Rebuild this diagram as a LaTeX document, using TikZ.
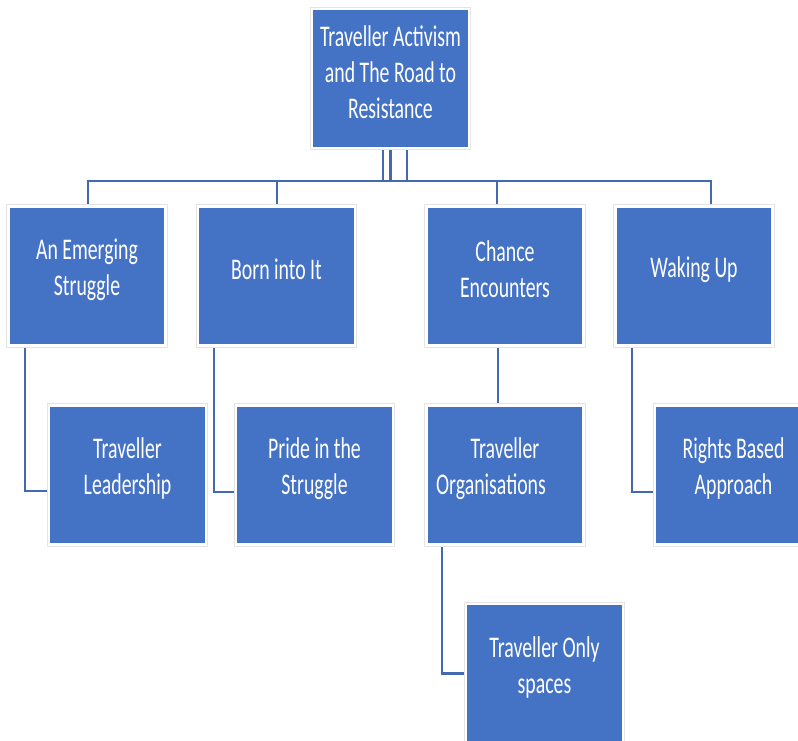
\documentclass[tikz,border=0pt]{standalone}
\usepackage{fontspec}
\newfontfamily\boxfont[FakeStretch=0.66]{Carlito}
\pgfdeclarelayer{background}
\pgfsetlayers{background,main}
\definecolor{boxblue}{HTML}{4472C4}
\definecolor{linkblue}{HTML}{4369B0}
\definecolor{rimgray}{HTML}{E4E4E4}
\tikzset{
  box/.style={rectangle, minimum width=157pt, minimum height=139pt, inner sep=0pt,
    fill=boxblue, draw=white, line width=2.4pt,
    preaction={draw=rimgray, line width=4.2pt}},
  lbl/.style={font=\boxfont\fontsize{30}{36}\selectfont, text=white, align=center, inner sep=0pt, yshift=6.5pt},
  link/.style={draw=linkblue, line width=2.2pt}
}
\begin{document}
\begin{tikzpicture}[x=1pt, y=-1pt]
\useasboundingbox (0,0) rectangle (798,740);
\clip (0,0) rectangle (798,740);

\node[box, label={[lbl, name=tl]center:Traveller Activism\\and The Road to\\Resistance}] (top) at (390.5,78.5) {};

\node[box, label={[lbl, name=al]center:An Emerging\\Struggle}] (a) at (87,276) {};
\node[box, label={[lbl, name=bl]center:Born into It}] (b) at (276.5,276) {};
\node[box, label={[lbl, name=cl]center:Chance\\Encounters}] (c) at (505,276) {};
\node[box, label={[lbl, name=dl]center:Waking Up}] (d) at (694,276) {};

\node[box, label={[lbl, name=a2l]center:Traveller\\Leadership}] (a2) at (127.5,475) {};
\node[box, label={[lbl, name=b2l]center:Pride in the\\Struggle}] (b2) at (314.5,475) {};
\node[box, label={[lbl, name=c2l]center:Traveller\\Organisations\hspace*{28pt}}] (c2) at (505,475) {};
\node[box, label={[lbl, name=d2l]center:Rights Based\\Approach}] (d2) at (733.5,475) {};

\node[box, label={[lbl, name=c3l]center:Traveller Only\\spaces}] (c3) at (544.5,673.5) {};

\coordinate (busa) at (88,181);
\coordinate (busb) at (277,181);
\coordinate (busc) at (497,181);
\coordinate (busd) at (711,181);

\begin{pgfonlayer}{background}
  \fill[white] (0,0) rectangle (798,740);
  \draw[link] ([xshift=16.5pt]top.center) |- (busa) -- (busa |- a.center);
  \draw[link] (top.center) |- (busb) -- (busb |- b.center);
  \draw[link] ([xshift=16.5pt]top.center) |- (busc) -- (busc |- c.center);
  \draw[link] ([xshift=-7.5pt]top.center) |- (busd) -- (busd |- d.center);

  \draw[link] ([xshift=-62pt]a.center) |- ([yshift=-16pt]a2.center);
  \draw[link] ([xshift=-62.5pt]b.center) |- ([yshift=-17pt]b2.center);
  \draw[link] ([xshift=-62pt]d.center) |- ([yshift=-17pt]d2.center);
  \draw[link] ([xshift=-7pt]c.center) -- ([xshift=-7pt]c2.center);
  \draw[link] ([xshift=-63pt]c2.center) |- (c3.center);
\end{pgfonlayer}
\end{tikzpicture}
\end{document}
